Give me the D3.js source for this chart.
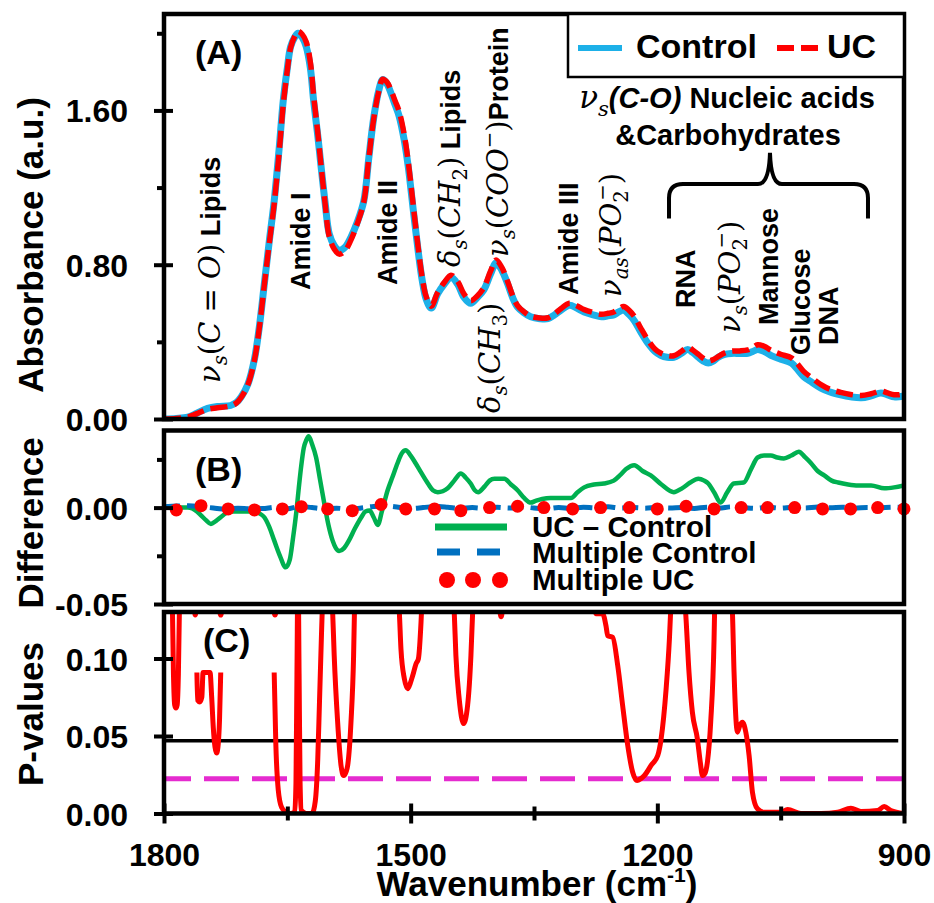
<!DOCTYPE html>
<html><head><meta charset="utf-8">
<script src="https://cdn.jsdelivr.net/npm/d3@7"></script>
<style>body{margin:0;background:#fff}svg{display:block}</style>
</head><body>
<svg id="chart" width="934" height="903"></svg>
<script>
// ---------------- DATA ----------------
const absWn = [1800,1785,1771,1760,1747,1735,1719,1712,1706,1698,
  1690,1684,1678,1672,1666,1660,1655,1650,1646,1641,
  1637,1632,1627,1622,1618,1613,1609,1604,1599,1593,
  1587,1580,1573,1565,1557,1551,1545,1539,1534,1529,
  1524,1519,1514,1508,1503,1497,1491,1486,1481,1475,
  1467,1459,1451,1443,1435,1427,1419,1411,1403,1396,
  1389,1382,1376,1370,1362,1354,1343,1333,1325,1317,
  1307,1298,1289,1278,1268,1260,1253,1247,1241,1234,
  1228,1220,1211,1203,1196,1188,1180,1171,1163,1157,
  1150,1144,1138,1132,1126,1118,1110,1100,1090,1084,
  1078,1070,1062,1050,1037,1030,1022,1012,1001,990,
  977,965,952,940,928,920,912,906,900];
const controlAbs = [0.000,0.003,0.010,0.030,0.055,0.065,0.070,0.085,0.115,0.180,
  0.310,0.480,0.700,0.920,1.130,1.400,1.650,1.820,1.930,1.980,
  2.000,1.980,1.930,1.820,1.650,1.470,1.310,1.120,0.960,0.900,
  0.875,0.890,0.940,1.020,1.130,1.350,1.560,1.700,1.760,1.740,
  1.690,1.630,1.570,1.450,1.310,1.090,0.875,0.720,0.620,0.575,
  0.650,0.700,0.735,0.700,0.630,0.600,0.630,0.670,0.750,0.810,
  0.770,0.700,0.630,0.580,0.550,0.530,0.520,0.520,0.540,0.565,
  0.590,0.575,0.555,0.540,0.530,0.535,0.540,0.555,0.565,0.540,
  0.510,0.450,0.390,0.350,0.330,0.320,0.320,0.340,0.360,0.345,
  0.320,0.300,0.290,0.300,0.320,0.335,0.340,0.340,0.340,0.350,
  0.360,0.350,0.330,0.310,0.290,0.260,0.220,0.190,0.160,0.140,
  0.125,0.115,0.110,0.120,0.135,0.125,0.115,0.115,0.120];
const ucAbs = [0.000,0.003,0.010,0.028,0.050,0.058,0.068,0.083,0.113,0.178,
  0.305,0.475,0.695,0.910,1.115,1.380,1.630,1.810,1.925,1.985,
  2.010,1.995,1.955,1.850,1.675,1.485,1.315,1.115,0.945,0.882,
  0.855,0.872,0.925,1.012,1.125,1.348,1.555,1.695,1.762,1.748,
  1.705,1.650,1.595,1.478,1.335,1.112,0.893,0.735,0.633,0.585,
  0.658,0.709,0.746,0.715,0.647,0.613,0.638,0.681,0.765,0.825,
  0.785,0.712,0.640,0.588,0.555,0.533,0.524,0.525,0.545,0.573,
  0.600,0.587,0.567,0.552,0.543,0.548,0.555,0.571,0.583,0.562,
  0.532,0.470,0.407,0.363,0.342,0.330,0.328,0.350,0.372,0.358,
  0.335,0.314,0.302,0.308,0.323,0.343,0.352,0.353,0.358,0.370,
  0.385,0.377,0.357,0.336,0.317,0.288,0.247,0.213,0.178,0.154,
  0.138,0.127,0.122,0.131,0.145,0.135,0.126,0.126,0.131];

// UC - Control difference [wavenumber, value]
const diffUCminusControl = [[1800,0],[1785,0],[1771,0],[1760,-0.002],[1755,-0.004],[1749,-0.0065],[1743,-0.0085],[1737,-0.007],[1731,-0.005],[1725,-0.003],[1719,-0.002],[1705,-0.002],[1690,-0.002],[1684,-0.003],[1678,-0.005],[1672,-0.010],[1666,-0.017],[1659,-0.025],[1652,-0.031],[1647,-0.027],[1643,-0.0155],[1639,-0.002],[1636,0.0105],[1633,0.022],[1630,0.031],[1627,0.035],[1624,0.037],[1620,0.033],[1615,0.026],[1610,0.014],[1605,0.002],[1600,-0.009],[1595,-0.017],[1591,-0.021],[1587,-0.0225],[1581,-0.021],[1575,-0.017],[1568,-0.011],[1560,-0.005],[1555,-0.002],[1550,-0.0015],[1545,-0.005],[1540,-0.009],[1535,-0.002],[1528,0.009],[1522,0.016],[1516,0.023],[1511,0.028],[1506,0.0297],[1500,0.027],[1494,0.023],[1487,0.018],[1479,0.0125],[1473,0.009],[1467,0.008],[1461,0.0085],[1455,0.010],[1447,0.014],[1439,0.0177],[1433,0.0155],[1427,0.0125],[1422,0.009],[1418,0.008],[1410,0.011],[1404,0.014],[1398,0.015],[1386,0.015],[1378,0.012],[1370,0.009],[1362,0.005],[1354,0.0026],[1348,0.0035],[1340,0.0045],[1330,0.005],[1318,0.005],[1305,0.005],[1297,0.008],[1289,0.0105],[1277,0.012],[1265,0.0125],[1253,0.014],[1245,0.017],[1238,0.020],[1228,0.022],[1218,0.019],[1208,0.0167],[1195,0.012],[1180,0.008],[1170,0.010],[1160,0.013],[1150,0.015],[1143,0.014],[1138,0.0125],[1131,0.008],[1123,0.0026],[1115,0.008],[1107,0.0125],[1095,0.013],[1086,0.020],[1078,0.026],[1070,0.027],[1062,0.027],[1054,0.026],[1046,0.0255],[1037,0.027],[1028,0.029],[1020,0.026],[1013,0.023],[1005,0.019],[997,0.0167],[988,0.014],[980,0.013],[968,0.012],[956,0.0115],[940,0.0115],[924,0.010],[912,0.0105],[900,0.0115]];

// Multiple Control (dashed)
const multipleControl = [[1800,0.0005],[1785,0.0008],[1770,0.0010],[1755,0.0005],[1740,-0.0002],[1725,-0.0008],[1710,-0.0003],[1695,-0.0006],[1680,-0.0005],[1665,0.0002],[1650,-0.0006],[1635,0.0006],[1620,0.0000],[1605,-0.0006],[1590,-0.0003],[1575,-0.0008],[1560,-0.0002],[1545,0.0006],[1530,0.0008],[1515,0.0002],[1500,-0.0005],[1485,0.0000],[1470,0.0006],[1455,0.0002],[1440,-0.0004],[1425,0.0000],[1410,-0.0004],[1395,0.0002],[1380,-0.0002],[1365,0.0004],[1350,-0.0002],[1335,-0.0006],[1320,0.0000],[1305,-0.0004],[1290,0.0002],[1275,-0.0002],[1260,0.0004],[1245,-0.0002],[1230,0.0000],[1215,-0.0003],[1200,0.0002],[1185,-0.0002],[1170,0.0000],[1155,-0.0004],[1140,0.0002],[1125,-0.0002],[1110,0.0004],[1095,0.0000],[1080,-0.0004],[1065,0.0002],[1050,-0.0003],[1035,0.0002],[1020,-0.0002],[1005,0.0003],[990,-0.0001],[975,0.0002],[960,-0.0003],[945,0.0001],[930,-0.0002],[915,0.0002],[900,0.0000]];

// Multiple UC (dots)
const multipleUC = [[1785,-0.0012],[1755,0.001],[1722,-0.0007],[1690,-0.0012],[1656,-0.0007],[1633,0.0005],[1601,-0.0007],[1571,-0.0016],[1536,0.0016],[1506,-0.0007],[1471,-0.0007],[1439,-0.0016],[1404,0.0000],[1370,0.0007],[1338,0.0000],[1303,-0.0007],[1269,0.0000],[1234,0.0000],[1200,-0.0007],[1165,0.0007],[1131,-0.0007],[1098,0.0000],[1066,0.0000],[1033,0.0000],[999,-0.0007],[965,-0.0007],[932,0.0000],[900,-0.0007]];

// P-values (null = gap)
const pValues = [
  [1790,0.14],[1788.5,0.09],[1787,0.07],[1785.5,0.068],[1784,0.07],[1782.5,0.09],[1781,0.14],[1781,null],
  [1764,0.14],[1762,0.128],[1760,0.14],[1760,null],
  [1760,0.091],[1759,0.073],[1756.5,0.072],[1754,0.075],[1752.5,0.091],[1744,0.091],[1742,0.075],[1740,0.055],[1738,0.043],[1736,0.039],[1734,0.045],[1732.5,0.06],[1731,0.091],[1731,null],
  [1734,0.14],[1731,0.128],[1728,0.14],[1728,null],
  [1668,0.14],[1665,0.128],[1662,0.14],[1662,null],
  [1666,0.091],[1664,0.045],[1661,0.015],[1657,0.004],[1652,0.001],[1646,0],[1641,0.001],[1639.5,0.02],[1638.3,0.09],[1637,0.16],[1635.7,0.09],[1634.5,0.02],[1633,0.002],[1627,0],[1620,0],[1616,0.008],[1613,0.035],[1611,0.07],[1608.5,0.115],[1607,0.14],[1607,null],
  [1596,0.14],[1594.9,0.13],[1593,0.102],[1588.8,0.0589],[1584.7,0.031],[1581.5,0.0245],[1578.5,0.027],[1576.6,0.031],[1572.6,0.0589],[1569.4,0.102],[1568,0.14],[1568,null],
  [1515,0.14],[1513.8,0.13],[1511.8,0.106],[1507.7,0.087],[1503.6,0.0805],[1500.5,0.084],[1497.5,0.089],[1493.5,0.0966],[1490.6,0.0998],[1487.4,0.1234],[1486,0.14],[1486,null],
  [1448,0.14],[1447,0.13],[1445,0.102],[1441,0.074],[1435.6,0.058],[1430.7,0.07],[1426.7,0.102],[1424.6,0.13],[1423.5,0.14],[1423.5,null],
  [1393,0.14],[1390,0.127],[1387,0.14],[1387,null],
  [1278,0.14],[1274.6,0.1288],[1266.5,0.1288],[1262.4,0.121],[1260.4,0.1148],[1254.3,0.1137],[1248.2,0.0955],[1242.2,0.0697],[1236,0.0439],[1230,0.0266],[1224.6,0.0213],[1220,0.0225],[1215.7,0.0245],[1207.6,0.031],[1199.5,0.0374],[1195.4,0.0482],[1189.3,0.0805],[1185.3,0.1127],[1183,0.14],[1183,null],
  [1167,0.14],[1165.6,0.13],[1161.5,0.0912],[1157.4,0.0654],[1151.3,0.0482],[1147.5,0.032],[1145.2,0.0245],[1142,0.026],[1139.1,0.0331],[1135.1,0.0589],[1131,0.1127],[1130,0.14],[1130,null],
  [1110,0.14],[1108.7,0.13],[1106.7,0.091],[1102.6,0.0525],[1099.5,0.057],[1096.5,0.0589],[1092.4,0.0525],[1088.4,0.0374],[1084.3,0.0137],[1078.2,0.003],[1070.1,0.0008],[1049.8,0.0008],[1041.6,0.0026],[1025.4,0],[1001.1,0],[980.8,0.0008],[964.6,0.0034],[952.4,0.0013],[932.2,0.0019],[924.1,0.0045],[916,0.0019],[900,0]
];
const pLevelSolid = 0.047;
const pLevelDashed = 0.0225;

const xTicksMajor = [1800, 1500, 1200, 900];
const xTicksMinor = [1650, 1350, 1050];
const yTicksA = [0, 0.8, 1.6], yMinorA = [0.4, 1.2, 2.0];
const yTicksB = [-0.05, 0], yMinorB = [-0.025, 0.025];
const yTicksC = [0, 0.05, 0.10];

// ---------------- SETUP ----------------
const SANS = "'Liberation Sans', Arial, Helvetica, sans-serif";
const SERIF = "'DejaVu Serif', 'Liberation Serif', serif";
const svg = d3.select("#chart");
const L = 164, R = 904;
const x = d3.scaleLinear().domain([1800, 900]).range([L, R]);
const yA = d3.scaleLinear().domain([0, 2.1]).range([419, 14]);
const yB = d3.scaleLinear().domain([-0.05, 0.04]).range([604, 430.5]);
const yC = d3.scaleLinear().domain([0, 0.13]).range([813.5, 612]);

const defs = svg.append("defs");
function clip(id, sc) {
  defs.append("clipPath").attr("id", id).append("rect")
    .attr("x", L).attr("y", sc.range()[1]).attr("width", R - L).attr("height", sc.range()[0] - sc.range()[1]);
}
clip("clipA", yA); clip("clipB", yB); clip("clipC", yC);

// ---------- Panel A ----------
const absData = absWn.map((w, i) => ({w, c: controlAbs[i], u: ucAbs[i]}));
const gA = svg.append("g").attr("clip-path", "url(#clipA)");
gA.append("path").datum(absData)
  .attr("d", d3.line().x(d => x(d.w)).y(d => yA(d.c)).curve(d3.curveCatmullRom.alpha(0.5)))
  .attr("fill", "none").attr("stroke", "#1DB0E8").attr("stroke-width", 7).attr("stroke-linejoin", "round");
gA.append("path").datum(absData)
  .attr("d", d3.line().x(d => x(d.w)).y(d => yA(d.u)).curve(d3.curveCatmullRom.alpha(0.5)))
  .attr("fill", "none").attr("stroke", "#FF0000").attr("stroke-width", 5.5).attr("stroke-dasharray", "17,7");

// ---------- Panel B ----------
const gB = svg.append("g").attr("clip-path", "url(#clipB)");
gB.append("path").datum(diffUCminusControl)
  .attr("d", d3.line().x(d => x(d[0])).y(d => yB(d[1])).curve(d3.curveMonotoneX))
  .attr("fill", "none").attr("stroke", "#00B050").attr("stroke-width", 4.5).attr("stroke-linejoin", "round");
gB.append("path").datum(multipleControl)
  .attr("d", d3.line().x(d => x(d[0])).y(d => yB(d[1])).curve(d3.curveMonotoneX))
  .attr("fill", "none").attr("stroke", "#0070C0").attr("stroke-width", 5).attr("stroke-dasharray", "16,7");
svg.append("g").selectAll("circle").data(multipleUC).join("circle")
  .attr("cx", d => x(d[0])).attr("cy", d => yB(d[1])).attr("r", 6.5).attr("fill", "#FF0000");

// ---------- Panel C ----------
const gC = svg.append("g").attr("clip-path", "url(#clipC)");
gC.append("line").attr("x1", x(1800)).attr("x2", x(907)).attr("y1", yC(pLevelSolid)).attr("y2", yC(pLevelSolid))
  .attr("stroke", "#000").attr("stroke-width", 3.5);
gC.append("line").attr("x1", x(1800)).attr("x2", x(900)).attr("y1", yC(pLevelDashed)).attr("y2", yC(pLevelDashed))
  .attr("stroke", "#E52BCF").attr("stroke-width", 5).attr("stroke-dasharray", "35,13").attr("stroke-dashoffset", 8);
gC.append("path").datum(pValues)
  .attr("d", d3.line().defined(d => d[1] != null).x(d => x(d[0])).y(d => yC(d[1])).curve(d3.curveMonotoneX))
  .attr("fill", "none").attr("stroke", "#FF0000").attr("stroke-width", 5).attr("stroke-linejoin", "round");

// ---------- Frames ----------
[yA, yB, yC].forEach(sc => {
  svg.append("rect").attr("x", L).attr("y", sc.range()[1]).attr("width", R - L)
    .attr("height", sc.range()[0] - sc.range()[1]).attr("fill", "none").attr("stroke", "#000").attr("stroke-width", 4.5);
});

// ---------- Axes ----------
function leftAxis(sc, major, minor) {
  const a = svg.append("g").attr("transform", `translate(${L},0)`)
    .call(d3.axisLeft(sc).tickValues(major).tickSize(10).tickPadding(26).tickFormat(d => d.toFixed(2)));
  a.select(".domain").remove();
  a.selectAll("line").attr("x1", 9).attr("stroke", "#000").attr("stroke-width", 4);
  a.selectAll("text").attr("font-family", SANS).attr("font-size", 32).attr("font-weight", "bold")
    .attr("fill", "#000").attr("dy", "0.36em");
  if (minor) {
    const m = svg.append("g").attr("transform", `translate(${L},0)`)
      .call(d3.axisLeft(sc).tickValues(minor).tickSize(7).tickFormat(""));
    m.select(".domain").remove();
    m.selectAll("line").attr("stroke", "#000").attr("stroke-width", 4);
  }
}
leftAxis(yA, yTicksA, yMinorA);
leftAxis(yB, yTicksB, yMinorB);
leftAxis(yC, yTicksC, null);

const bx = svg.append("g").attr("transform", `translate(0,${yC.range()[0]})`)
  .call(d3.axisBottom(x).tickValues(xTicksMajor).tickSize(10).tickFormat(d3.format("d")));
bx.select(".domain").remove();
bx.selectAll("line").attr("y1", -10).attr("stroke", "#000").attr("stroke-width", 4);
bx.selectAll("text").attr("y", 52).attr("dy", 0).attr("font-family", SANS).attr("font-size", 32)
  .attr("font-weight", "bold").attr("fill", "#000");
const bm = svg.append("g").attr("transform", `translate(0,${yC.range()[0]})`)
  .call(d3.axisBottom(x).tickValues(xTicksMinor).tickSize(7).tickFormat(""));
bm.select(".domain").remove();
bm.selectAll("line").attr("y1", -7).attr("stroke", "#000").attr("stroke-width", 4);

// ---------- Titles ----------
function yTitle(txt, cy) {
  svg.append("text").attr("transform", `translate(43,${cy}) rotate(-90)`).attr("text-anchor", "middle")
    .attr("font-family", SANS).attr("font-size", 35).attr("font-weight", "bold").text(txt);
}
yTitle("Absorbance (a.u.)", 245);
yTitle("Difference", 523);
yTitle("P-values", 714);
const xt = svg.append("text").attr("x", 537).attr("y", 896).attr("text-anchor", "middle")
  .attr("font-family", SANS).attr("font-size", 35).attr("font-weight", "bold");
xt.append("tspan").text("Wavenumber (cm");
xt.append("tspan").attr("font-size", 21).attr("dy", -14).text("-1");
xt.append("tspan").attr("dy", 14).text(")");

// panel letters
[["(A)", 195, 64], ["(B)", 195, 481], ["(C)", 203, 652]].forEach(([t, px, py]) => {
  svg.append("text").attr("x", px).attr("y", py).attr("font-family", SANS).attr("font-size", 34)
    .attr("font-weight", "bold").text(t);
});

// ---------- Legend A ----------
svg.append("rect").attr("x", 568).attr("y", 14).attr("width", R - 568).attr("height", 63)
  .attr("fill", "#fff").attr("stroke", "#000").attr("stroke-width", 2.5);
svg.append("line").attr("x1", 578).attr("x2", 622).attr("y1", 48).attr("y2", 48)
  .attr("stroke", "#1DB0E8").attr("stroke-width", 6);
svg.append("text").attr("x", 636).attr("y", 58).attr("font-family", SANS).attr("font-size", 34)
  .attr("font-weight", "bold").text("Control");
svg.append("line").attr("x1", 777).attr("x2", 818).attr("y1", 48).attr("y2", 48)
  .attr("stroke", "#FF0000").attr("stroke-width", 6).attr("stroke-dasharray", "17,7");
svg.append("text").attr("x", 827).attr("y", 58).attr("font-family", SANS).attr("font-size", 34)
  .attr("font-weight", "bold").text("UC");

// ---------- Legend B ----------
svg.append("line").attr("x1", 435).attr("x2", 507).attr("y1", 527).attr("y2", 527)
  .attr("stroke", "#00B050").attr("stroke-width", 7);
svg.append("line").attr("x1", 437).attr("x2", 500).attr("y1", 552).attr("y2", 552)
  .attr("stroke", "#0070C0").attr("stroke-width", 7).attr("stroke-dasharray", "23,17");
[447, 473, 500].forEach(cx => svg.append("circle").attr("cx", cx).attr("cy", 580).attr("r", 8).attr("fill", "#FF0000"));
[["UC \u2013 Control", 537], ["Multiple Control", 563], ["Multiple UC", 590]].forEach(([t, by]) => {
  svg.append("text").attr("x", 532).attr("y", by).attr("font-family", SANS).attr("font-size", 29.5)
    .attr("font-weight", "bold").style("white-space", "pre").text(t);
});

// ---------- Annotations ----------
function richText(px, py, parts, o) {
  const S = o.size || 27, M = o.math || 29;
  const t = svg.append("text")
    .attr("transform", `translate(${px},${py})${o.rotate ? " rotate(-90)" : ""}`)
    .attr("text-anchor", o.anchor || "start").attr("fill", "#000").style("white-space", "pre");
  let shift = 0;
  parts.forEach(p => {
    const s = t.append("tspan").text(p.t);
    let target = 0, fs, fam, wt = "normal", st = "normal";
    if (p.k === "b") { fs = S; fam = SANS; wt = "bold"; }
    else if (p.k === "bi") { fs = S; fam = SANS; wt = "bold"; st = "italic"; }
    else if (p.k === "i") { fs = M; fam = SERIF; st = "italic"; }
    else if (p.k === "u") { fs = M; fam = SERIF; }
    else if (p.k === "sub") { fs = M * 0.68; fam = SERIF; st = p.up ? "normal" : "italic"; target = M * 0.25; }
    else if (p.k === "sup") { fs = M * 0.68; fam = SERIF; target = -M * 0.42; }
    s.attr("font-family", fam).attr("font-size", fs).attr("font-weight", wt).attr("font-style", st);
    if (target - shift !== 0) s.attr("dy", target - shift);
    if (p.back) s.attr("dx", -M * 0.36);
    shift = target;
  });
}
const nu = {k: "i", t: "\u03BD"}, delta = {k: "i", t: "\u03B4"}, subS = {k: "sub", t: "s"};
const po2 = [{k: "i", t: "PO"}, {k: "sub", t: "2", up: true}, {k: "sup", t: "\u2212", back: true}];
const annotations = [
  {w: 1732, a: 0.187, parts: [nu, subS, {k: "u", t: "("}, {k: "i", t: "C"}, {k: "u", t: " = "}, {k: "i", t: "O"}, {k: "u", t: ")"}, {k: "b", t: " Lipids"}]},
  {w: 1622.4, a: 0.669, parts: [{k: "b", t: "Amide I"}]},
  {w: 1516.6, a: 0.695, parts: [{k: "b", t: "Amide II"}]},
  {w: 1440, a: 0.788, parts: [delta, subS, {k: "u", t: "("}, {k: "i", t: "CH"}, {k: "sub", t: "2", up: true}, {k: "u", t: ")"}, {k: "b", t: " Lipids"}]},
  {w: 1391.3, a: 0.031, parts: [delta, subS, {k: "u", t: "("}, {k: "i", t: "CH"}, {k: "sub", t: "3", up: true}, {k: "u", t: ")"}]},
  {w: 1381.6, a: 0.84, parts: [nu, subS, {k: "u", t: "("}, {k: "i", t: "COO"}, {k: "sup", t: "\u2212"}, {k: "u", t: ")"}, {k: "b", t: "Protein"}]},
  {w: 1296.5, a: 0.643, parts: [{k: "b", t: "Amide III"}]},
  {w: 1244.2, a: 0.633, parts: [nu, {k: "sub", t: "as"}, {k: "u", t: "("}, ...po2, {k: "u", t: ")"}]},
  {w: 1154.2, a: 0.576, parts: [{k: "b", t: "RNA"}]},
  {w: 1099.4, a: 0.446, parts: [nu, subS, {k: "u", t: "("}, ...po2, {k: "u", t: ")"}]},
  {w: 1053.4, a: 0.487, parts: [{k: "b", t: "Mannose"}]},
  {w: 1014.3, a: 0.332, parts: [{k: "b", t: "Glucose"}]},
  {w: 980.3, a: 0.384, parts: [{k: "b", t: "DNA"}]}
];
annotations.forEach(d => richText(x(d.w), yA(d.a), d.parts, {rotate: true, size: 27, math: 29}));
richText(x(1115.3), yA(1.613), [nu, subS, {k: "bi", t: "(C-O)"}, {k: "b", t: " Nucleic acids"}], {anchor: "middle", size: 29, math: 31});
richText(x(1114), yA(1.421), [{k: "b", t: "&Carbohydrates"}], {anchor: "middle", size: 29});

// brace
const bL = x(1185.8), bR = x(943.8), bT = x(1063), yTip = yA(1.38), yMid = yA(1.218), yEnd = yA(1.04);
svg.append("path")
  .attr("d", `M${bL},${yEnd} L${bL},${yMid + 14} Q${bL},${yMid} ${bL + 14},${yMid} L${bT - 12},${yMid} Q${bT - 1},${yMid} ${bT},${yTip} Q${bT + 1},${yMid} ${bT + 12},${yMid} L${bR - 14},${yMid} Q${bR},${yMid} ${bR},${yMid + 14} L${bR},${yEnd}`)
  .attr("fill", "none").attr("stroke", "#000").attr("stroke-width", 4);
</script>
</body></html>
